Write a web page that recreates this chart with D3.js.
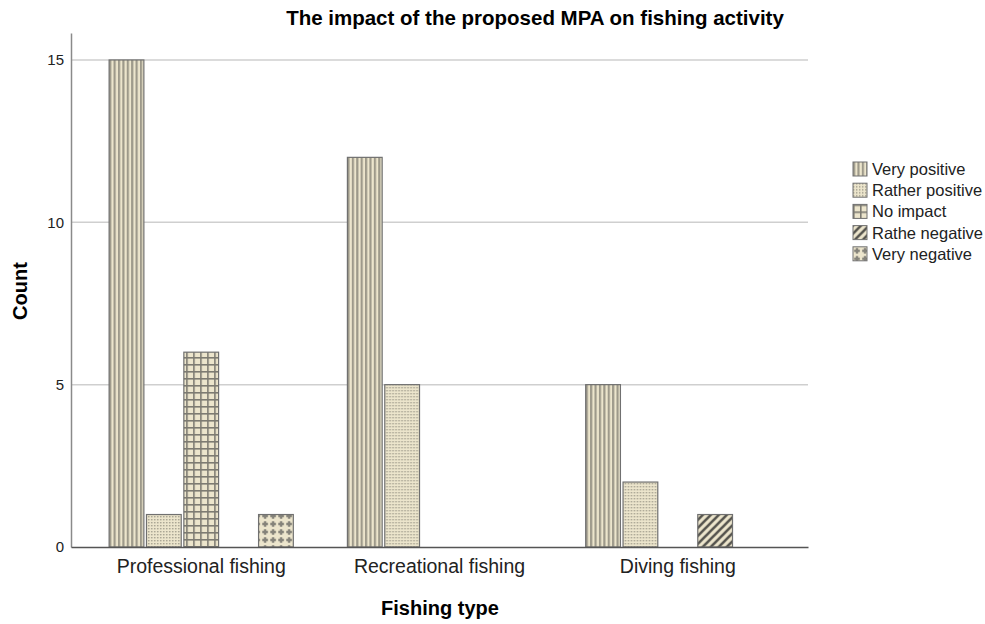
<!DOCTYPE html>
<html lang="en">
<head>
<meta charset="utf-8">
<title>The impact of the proposed MPA on fishing activity</title>
<script src="https://d3js.org/d3.v7.min.js"></script>
<style type="text/css">
    body { margin: 0; background: #fff; }
    text { font-family: Arial, "Liberation Sans", sans-serif; }
</style>
</head>
<body>
<script type="text/javascript">

// data
const fishingTypes = ["Professional fishing", "Recreational fishing", "Diving fishing"];
const impacts = ["Very positive", "Rather positive", "No impact", "Rathe negative", "Very negative"];
const veryPositive = [15, 12, 5];
const ratherPositive = [1, 5, 2];
const noImpact = [6, 0, 0];
const ratheNegative = [0, 0, 1];
const veryNegative = [1, 0, 0];
const yTicks = [0, 5, 10, 15];

const seriesValues = [veryPositive, ratherPositive, noImpact, ratheNegative, veryNegative];

const w = 985, h = 624;
const margin = {top: 33, right: 177, bottom: 77, left: 71};

const beige = "#ece5cc";

const svg = d3.select("body").append("svg")
    .attr("width", w)
    .attr("height", h);

// patterns
const defs = svg.append("defs");
const patternIds = ["p-vpos", "p-rpos", "p-none", "p-rneg", "p-vneg"];

function newPattern(id, size) {
    const p = defs.append("pattern")
        .attr("id", id)
        .attr("patternUnits", "userSpaceOnUse")
        .attr("width", size)
        .attr("height", size);
    p.append("rect").attr("width", size).attr("height", size).attr("fill", beige);
    return p;
}

// vertical stripes
let p = newPattern("p-vpos", 4.4);
p.append("rect").attr("x", 0).attr("width", 2.2).attr("height", 4.4).attr("fill", "#9d998a");

// fine dots
p = newPattern("p-rpos", 3);
p.append("rect").attr("x", 0).attr("y", 0).attr("width", 1.4).attr("height", 1.4).attr("fill", "#a29e8d");

// grid
p = newPattern("p-none", 7);
p.append("rect").attr("x", 0).attr("y", 0).attr("width", 7).attr("height", 1.6).attr("fill", "#7d7b72");
p.append("rect").attr("x", 0).attr("y", 0).attr("width", 1.6).attr("height", 7).attr("fill", "#7d7b72");

// diagonal stripes
p = newPattern("p-rneg", 8);
p.append("path").attr("d", "M-2,2 L2,-2 M0,8 L8,0 M6,10 L10,6")
    .attr("stroke", "#55544e").attr("stroke-width", 2.6);

// crosses
p = newPattern("p-vneg", 8);
p.append("path").attr("d", "M4,1.2 V6.8 M1.2,4 H6.8")
    .attr("stroke", "#85837a").attr("stroke-width", 2.4);

// scales
const x0 = d3.scaleBand()
    .domain(fishingTypes)
    .range([margin.left, w - margin.right])
    .paddingInner(0.227)
    .paddingOuter(0.16);

const x1 = d3.scaleBand()
    .domain(impacts)
    .range([0, x0.bandwidth()])
    .paddingInner(0.07);

const y = d3.scaleLinear()
    .domain([0, 15.83])
    .range([h - margin.bottom, margin.top]);

// gridlines
svg.append("g")
    .selectAll("line")
    .data(yTicks.filter(d => d > 0))
    .join("line")
    .attr("x1", margin.left)
    .attr("x2", w - margin.right)
    .attr("y1", d => y(d))
    .attr("y2", d => y(d))
    .attr("stroke", "#cfcfcf")
    .attr("stroke-width", 1.5);

// bars
const groups = svg.append("g")
    .selectAll("g")
    .data(fishingTypes)
    .join("g")
    .attr("transform", d => "translate(" + x0(d) + ",0)");

groups.selectAll("rect")
    .data((d, i) => impacts.map((k, j) => ({key: k, idx: j, value: seriesValues[j][i]})))
    .join("rect")
    .filter(d => d.value > 0)
    .attr("x", d => x1(d.key))
    .attr("y", d => y(d.value))
    .attr("width", x1.bandwidth())
    .attr("height", d => y(0) - y(d.value))
    .attr("fill", d => "url(#" + patternIds[d.idx] + ")")
    .attr("stroke", "#707070")
    .attr("stroke-width", 1.2);

// axes
const yAxis = svg.append("g")
    .attr("transform", "translate(" + margin.left + ",0)")
    .call(d3.axisLeft(y).tickValues(yTicks).tickSize(0).tickPadding(7));
yAxis.select(".domain").attr("stroke", "#8a8a8a").attr("stroke-width", 1.5);
yAxis.selectAll("text").attr("font-size", 15).attr("fill", "#222")
    .attr("font-family", "Arial, 'Liberation Sans', sans-serif");

const xAxis = svg.append("g")
    .attr("transform", "translate(0," + y(0) + ")")
    .call(d3.axisBottom(x0).tickSize(0).tickPadding(12));
xAxis.select(".domain").attr("stroke", "#555").attr("stroke-width", 1.3);
xAxis.selectAll("text").attr("font-size", 19.5).attr("fill", "#222")
    .attr("font-family", "Arial, 'Liberation Sans', sans-serif");

// titles
svg.append("text")
    .attr("x", 535)
    .attr("y", 25)
    .attr("text-anchor", "middle")
    .style("font-size", "20.5px")
    .style("font-weight", "bold")
    .text("The impact of the proposed MPA on fishing activity");

svg.append("text")
    .attr("x", 440)
    .attr("y", 615)
    .attr("text-anchor", "middle")
    .style("font-size", "20px")
    .style("font-weight", "bold")
    .text("Fishing type");

svg.append("text")
    .attr("transform", "translate(27," + 291 + ") rotate(-90)")
    .attr("text-anchor", "middle")
    .style("font-size", "20px")
    .style("font-weight", "bold")
    .text("Count");

// legend
const legend = svg.append("g")
    .attr("transform", "translate(853,162)");

const items = legend.selectAll("g")
    .data(impacts)
    .join("g")
    .attr("transform", (d, i) => "translate(0," + i * 21.2 + ")");

items.append("rect")
    .attr("width", 14)
    .attr("height", 14)
    .attr("fill", (d, i) => "url(#" + patternIds[i] + ")")
    .attr("stroke", "#707070")
    .attr("stroke-width", 1);

items.append("text")
    .attr("x", 19)
    .attr("y", 13)
    .style("font-size", "16.5px")
    .attr("fill", "#222")
    .text(d => d);

</script>
</body>
</html>
